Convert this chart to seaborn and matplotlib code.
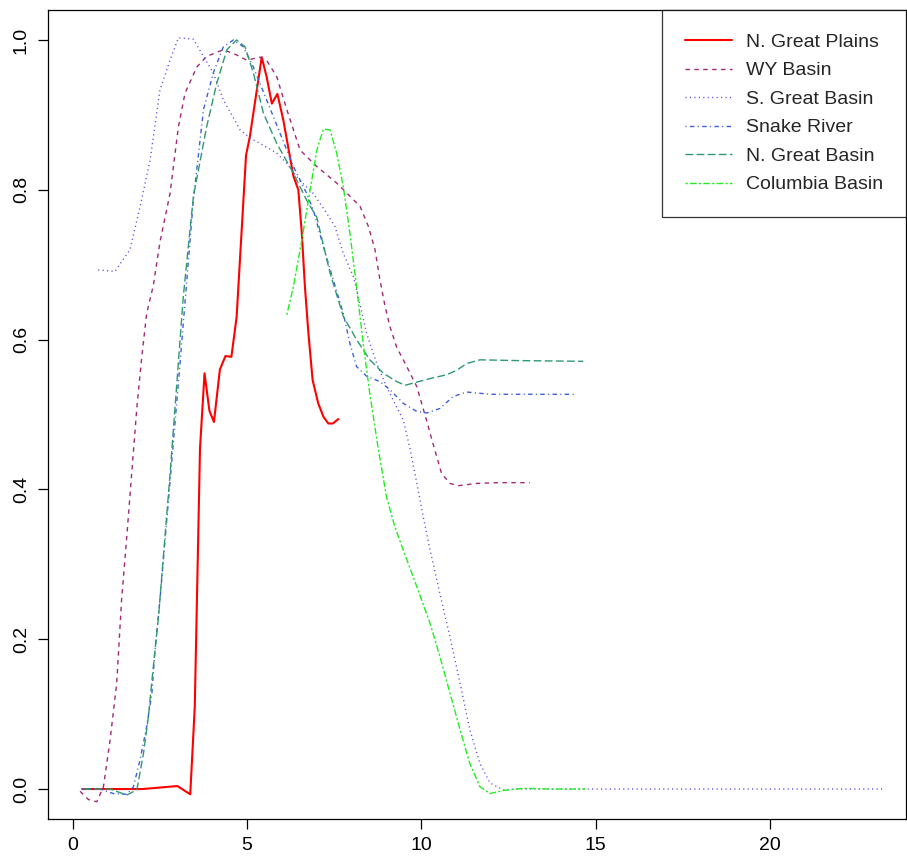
import matplotlib
matplotlib.use("Agg")
import matplotlib.pyplot as plt
import seaborn as sns

# --- data ---
regions = ["N. Great Plains", "WY Basin", "S. Great Basin",
           "Snake River", "N. Great Basin", "Columbia Basin"]

ngp_x = [0.27, 1.0, 2.0, 2.5, 3.0, 3.37, 3.5, 3.65, 3.78, 3.92, 4.05, 4.22, 4.38,
         4.55, 4.70, 4.97, 5.08, 5.42, 5.56, 5.71, 5.87, 6.04, 6.33, 6.47, 6.57,
         6.66, 6.76, 6.88, 7.04, 7.19, 7.33, 7.46, 7.62]
ngp_y = [0.0, 0.0, 0.0, 0.002, 0.004, -0.007, 0.11, 0.455, 0.555, 0.505, 0.49, 0.56,
         0.578, 0.577, 0.63, 0.846, 0.871, 0.977, 0.951, 0.915, 0.928, 0.893, 0.818,
         0.80, 0.742, 0.67, 0.608, 0.546, 0.515, 0.497, 0.488, 0.488, 0.494]

wy_x = [0.21, 0.45, 0.69, 0.88, 1.07, 1.26, 1.40, 1.55, 1.69, 1.84, 1.98, 2.12, 2.31,
        2.50, 2.79, 3.03, 3.22, 3.56, 3.84, 4.32, 4.70, 4.99, 5.37, 5.56, 5.85, 6.14,
        6.52, 7.0, 7.57, 8.24, 8.48, 8.67, 8.81, 8.96, 9.10, 9.29, 9.58, 9.87, 10.10,
        10.34, 10.58, 10.82, 11.06, 11.59, 12.2, 13.11]
wy_y = [-0.003, -0.014, -0.017, 0.003, 0.065, 0.141, 0.252, 0.337, 0.421, 0.51, 0.577,
        0.635, 0.672, 0.73, 0.795, 0.884, 0.929, 0.964, 0.978, 0.987, 0.98, 0.973,
        0.977, 0.973, 0.951, 0.907, 0.853, 0.831, 0.809, 0.778, 0.751, 0.72, 0.68,
        0.644, 0.617, 0.59, 0.564, 0.537, 0.50, 0.46, 0.421, 0.408, 0.405, 0.408,
        0.409, 0.409]

sgb_x = [0.73, 1.21, 1.64, 1.93, 2.22, 2.50, 2.79, 3.03, 3.46, 3.75, 4.03, 4.32, 4.80,
         5.09, 5.37, 5.85, 6.14, 6.52, 6.90, 7.28, 7.52, 7.76, 8.05, 8.19, 8.43, 8.72,
         9.0, 9.29, 9.48, 9.67, 9.87, 10.05, 10.25, 10.53, 10.82, 11.11, 11.39, 11.68,
         11.97, 12.35, 12.73, 23.24]
sgb_y = [0.693, 0.691, 0.72, 0.777, 0.84, 0.933, 0.973, 1.003, 1.001, 0.978, 0.956,
         0.92, 0.88, 0.869, 0.862, 0.849, 0.835, 0.812, 0.795, 0.769, 0.751, 0.715,
         0.684, 0.657, 0.608, 0.568, 0.537, 0.51, 0.493, 0.455, 0.408, 0.364, 0.319,
         0.261, 0.203, 0.141, 0.079, 0.034, 0.008, -0.001, 0.0, 0.0]

snake_x = [0.26, 0.78, 1.16, 1.55, 1.74, 1.93, 2.12, 2.27, 2.36, 2.50, 2.79, 3.08,
           3.46, 3.75, 4.03, 4.32, 4.61, 4.89, 5.18, 5.56, 5.95, 6.33, 6.71, 6.90,
           7.19, 7.47, 7.76, 7.95, 8.14, 8.43, 8.81, 9.10, 9.48, 9.87, 10.15, 10.53,
           10.91, 11.30, 11.97, 14.4]
snake_y = [0.0, 0.0, -0.006, -0.007, 0.003, 0.039, 0.083, 0.128, 0.186, 0.252, 0.41,
           0.57, 0.787, 0.907, 0.956, 0.991, 1.0, 0.991, 0.964, 0.92, 0.875, 0.831,
           0.795, 0.773, 0.724, 0.68, 0.635, 0.595, 0.564, 0.551, 0.544, 0.533, 0.515,
           0.504, 0.502, 0.508, 0.524, 0.53, 0.527, 0.527]

ngb_x = [0.30, 1.07, 1.55, 1.84, 2.03, 2.17, 2.31, 2.46, 2.79, 3.17, 3.46, 3.84, 4.13,
         4.42, 4.70, 4.94, 5.18, 5.47, 5.85, 6.33, 6.71, 7.0, 7.38, 7.76, 8.14, 8.52,
         8.91, 9.29, 9.53, 9.77, 10.25, 10.72, 11.01, 11.30, 11.68, 12.73, 14.64]
ngb_y = [0.0, 0.0, -0.008, -0.001, 0.048, 0.097, 0.163, 0.23, 0.42, 0.657, 0.791,
         0.884, 0.942, 0.987, 1.0, 0.991, 0.956, 0.902, 0.862, 0.822, 0.786, 0.763,
         0.689, 0.631, 0.6, 0.573, 0.555, 0.544, 0.539, 0.542, 0.548, 0.553, 0.559,
         0.568, 0.573, 0.572, 0.571]

col_x = [6.14, 6.33, 6.57, 6.76, 7.0, 7.19, 7.38, 7.57, 7.76, 7.95, 8.14, 8.33, 8.52,
         8.76, 9.0, 9.24, 9.48, 9.87, 10.25, 10.53, 10.82, 11.11, 11.39, 11.68, 11.97,
         12.35, 12.92, 13.69, 14.7]
col_y = [0.633, 0.671, 0.733, 0.786, 0.853, 0.881, 0.88, 0.849, 0.804, 0.742, 0.671,
         0.595, 0.528, 0.455, 0.39, 0.35, 0.319, 0.27, 0.221, 0.177, 0.128, 0.079,
         0.034, 0.003, -0.006, -0.002, 0.001, 0.0, 0.0]

xs = [ngp_x, wy_x, sgb_x, snake_x, ngb_x, col_x]
ys = [ngp_y, wy_y, sgb_y, snake_y, ngb_y, col_y]

# colours / R-style line types (lty 1..6)
colors = ["#FF0000", "#A3287A", "#5A46E6", "#3D5FE0", "#2E9A70", "#22EE22"]
styles = ["-", (0, (3.2, 3.2)), (0, (0.8, 2.4)), (0, (0.8, 2.4, 3.2, 2.4)),
          (0, (5.6, 2.4)), (0, (1.6, 1.6, 4.8, 1.6))]
widths = [1.5, 1.0, 1.0, 1.0, 1.0, 1.0]

sns.set_style("white")
plt.rcParams['font.family'] = ['Liberation Sans', 'DejaVu Sans']

fig = plt.figure(figsize=(9.07, 8.56), dpi=100)
ax = fig.add_axes([48 / 907, 37 / 856, 858 / 907, 809 / 856])

for name, x, y, c, ls, lw in zip(regions, xs, ys, colors, styles, widths):
    sns.lineplot(x=x, y=y, ax=ax, color=c, linestyle=ls, linewidth=lw,
                 label=name, estimator=None, sort=False)

ax.set_xlim(-0.71, 23.9)
ax.set_ylim(-0.04, 1.04)
ax.set_xticks([0, 5, 10, 15, 20])
ax.set_yticks([0.0, 0.2, 0.4, 0.6, 0.8, 1.0])
ax.set_yticklabels(["0.0", "0.2", "0.4", "0.6", "0.8", "1.0"], rotation=90, va="center")
ax.tick_params(axis="both", direction="out", length=7, width=0.9, colors="black",
               labelsize=14, pad=6, left=True, bottom=True)
for sp in ax.spines.values():
    sp.set_color("black")
    sp.set_linewidth(0.9)
ax.set_xlabel("")
ax.set_ylabel("")

leg = ax.legend(loc="upper right", fontsize=14, frameon=True, fancybox=False,
                borderaxespad=0, borderpad=1.2, labelspacing=0.56, handlelength=2.4,
                handletextpad=0.7)
leg.get_frame().set_edgecolor("black")
leg.get_frame().set_linewidth(0.9)

fig.savefig("out.png", dpi=100)
